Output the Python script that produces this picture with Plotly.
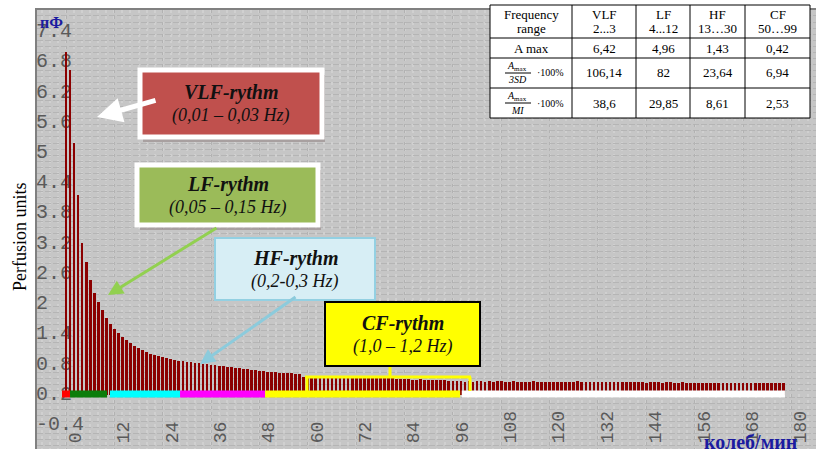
import plotly.graph_objects as go

# ---------------- data ----------------
amp = [6.81, 6.45, 5.00, 3.97, 3.02, 2.64, 2.28, 2.02, 1.85, 1.69,
       1.53, 1.41, 1.31, 1.23, 1.15, 1.09, 1.03, 0.97, 0.93, 0.89,
       0.85, 0.81, 0.79, 0.77, 0.75, 0.73, 0.71, 0.69, 0.67, 0.67,
       0.65, 0.65, 0.64, 0.63, 0.62, 0.61, 0.60, 0.59, 0.58, 0.57,
       0.56, 0.55, 0.54, 0.53, 0.52, 0.51, 0.50, 0.49, 0.48, 0.47,
       0.46, 0.45, 0.45, 0.44, 0.44, 0.43, 0.43, 0.42, 0.42,
       0.36, 0.35, 0.35, 0.36, 0.35, 0.34, 0.35, 0.35, 0.36, 0.35,
       0.34, 0.35, 0.36, 0.36, 0.35, 0.35, 0.34, 0.35, 0.35, 0.34,
       0.34, 0.33, 0.33, 0.32, 0.32,
       0.31, 0.31, 0.30, 0.30, 0.31, 0.30, 0.30, 0.29, 0.30, 0.30,
       0.29, 0.28, 0.28,
       0.27, 0.27, 0.26, 0.27, 0.26, 0.27, 0.27, 0.26, 0.27, 0.26,
       0.27, 0.27, 0.26, 0.26, 0.27, 0.26, 0.26,
       0.26, 0.26, 0.27, 0.26, 0.26, 0.26, 0.25, 0.26, 0.26, 0.26,
       0.25, 0.26, 0.26, 0.27, 0.26, 0.26, 0.25, 0.26, 0.26, 0.25,
       0.25, 0.26, 0.26, 0.25, 0.25, 0.25, 0.26, 0.25, 0.25, 0.25,
       0.24, 0.25, 0.25, 0.25, 0.24, 0.25, 0.25,
       0.24, 0.24, 0.25, 0.24, 0.24, 0.24, 0.24, 0.23, 0.24, 0.24,
       0.24, 0.23, 0.24, 0.24, 0.23, 0.24, 0.24, 0.23, 0.23, 0.24,
       0.23, 0.23, 0.24, 0.23, 0.23, 0.23, 0.23, 0.23]
freq = list(range(len(amp)))

x_ticks = list(range(0, 181, 12))
x_tick_text = [str(v) for v in x_ticks]
y_ticks = [7.4, 6.8, 6.2, 5.6, 5.0, 4.4, 3.8, 3.2, 2.6, 2.0, 1.4, 0.8, 0.2, -0.4]
y_tick_text = ["7.4", "6.8", "6.2", "5.6", "5", "4.4", "3.8", "3.2", "2.6", "2",
               "1.4", "0.8", "0.2", "-0.4"]

band_start = [-1.0, 1.0, 10.9, 28.3, 49.4, 98.2]
band_end = [1.0, 10.2, 28.3, 49.4, 97.8, 178.4]
band_color = ["#FF0000", "#0B7D0B", "#00FFFF", "#FF00FF", "#FFFF00", "#FFFFFF"]

tbl_header_top = ["Frequency", "VLF", "LF", "HF", "CF"]
tbl_header_bot = ["range", "2...3", "4...12", "13\u202630", "50\u202699"]
tbl_amax = ["6,42", "4,96", "1,43", "0,42"]
tbl_3sd = ["106,14", "82", "23,64", "6,94"]
tbl_mi = ["38,6", "29,85", "8,61", "2,53"]

# ---------------- geometry helpers ----------------
W, H = 816, 449
ML, MT = 37, 10
PW, PH = W - ML, H - MT


def px(x):
    return (x - ML) / PW


def py(y):
    return (H - y) / PH


SERIF = "Liberation Serif"
MONO = "Liberation Mono"


def label(x, y, text, font, **kw):
    d = dict(xref="paper", yref="paper", x=px(x), y=py(y), text=text,
             showarrow=False, font=font, xanchor="center", yanchor="middle")
    d.update(kw)
    return d


fig = go.Figure()

fig.add_trace(go.Bar(x=freq, y=amp, width=0.68,
                     marker=dict(color="#8B0000", line=dict(width=0)),
                     hoverinfo="skip"))

for s, e, c in zip(band_start, band_end, band_color):
    fig.add_trace(go.Scatter(x=[s, e], y=[0.02, 0.02], mode="lines",
                             line=dict(color=c, width=7), hoverinfo="skip"))

shapes = []
annots = []

# yellow bracket
for (x0, y0, x1, y1) in [(305, 377, 471, 377), (307, 377, 307, 391),
                         (470, 377, 470, 391), (390, 366, 390, 377)]:
    shapes.append(dict(type="line", xref="paper", yref="paper",
                       x0=px(x0), y0=py(y0), x1=px(x1), y1=py(y1),
                       line=dict(color="#FFFF00", width=3), layer="above"))

# rhythm boxes
boxes = [
    (140, 70, 322, 137, "#C0504D", "#FFFFFF", 5, "VLF-rythm", "(0,01 \u2013 0,03 Hz)"),
    (137, 165, 318, 225, "#9BBB59", "#FFFFFF", 5, "LF-rythm", "(0,05 \u2013 0,15 Hz)"),
    (215, 238, 375, 300, "#D7EEF5", "#93D0E2", 2, "HF-rythm", "(0,2-0,3 Hz)"),
    (325, 302, 480, 366, "#FFFF00", "#000000", 2, "CF-rythm", "(1,0 \u2013 1,2 Hz)"),
]
for x0, y0, x1, y1, fill, border, bw, title, sub in boxes:
    if bw == 5:
        shapes.append(dict(type="rect", xref="paper", yref="paper",
                           x0=px(x0 + 3), x1=px(x1 + 3), y0=py(y1 + 5), y1=py(y0 + 5),
                           fillcolor="#8A7A7A", opacity=0.5, line=dict(width=0),
                           layer="above"))
    shapes.append(dict(type="rect", xref="paper", yref="paper",
                       x0=px(x0), x1=px(x1), y0=py(y1), y1=py(y0),
                       fillcolor=fill, line=dict(color=border, width=bw),
                       layer="above"))
    cx = (x0 + x1) / 2
    cy = (y0 + y1) / 2
    annots.append(label(cx, cy - 11, "<b><i>" + title + "</i></b>",
                        dict(family=SERIF, size=20, color="#111111")))
    annots.append(label(cx, cy + 12, "<i>" + sub + "</i>",
                        dict(family=SERIF, size=18, color="#111111")))

# arrows (tail -> tip)
arrows = [((157, 100), (97, 117), "#FFFFFF", 5),
          ((218, 227), (108, 295), "#92D050", 3),
          ((297, 296), (200, 364), "#8CCBDC", 3)]
for (tx, ty), (hx, hy), col, w in arrows:
    annots.append(dict(xref="paper", yref="paper", x=px(hx), y=py(hy),
                       ax=tx - hx, ay=ty - hy, text="", showarrow=True,
                       arrowhead=2, arrowsize=1.0, arrowwidth=w, arrowcolor=col))

# table
T_L, T_R, T_T, T_B = 490, 810, 5, 118
col_x = [490, 572, 636, 690, 745, 810]
row_y = [5, 38, 58, 88, 118]
shapes.append(dict(type="rect", xref="paper", yref="paper",
                   x0=px(T_L), x1=px(T_R), y0=py(T_B), y1=py(T_T),
                   fillcolor="#FFFFFF", line=dict(color="#000000", width=1),
                   layer="above"))
for cxl in col_x[1:-1]:
    shapes.append(dict(type="line", xref="paper", yref="paper",
                       x0=px(cxl), x1=px(cxl), y0=py(T_B), y1=py(T_T),
                       line=dict(color="#000000", width=1), layer="above"))
for ryl in row_y[1:-1]:
    shapes.append(dict(type="line", xref="paper", yref="paper",
                       x0=px(T_L), x1=px(T_R), y0=py(ryl), y1=py(ryl),
                       line=dict(color="#000000", width=1), layer="above"))

centers = [(col_x[i] + col_x[i + 1]) / 2 for i in range(5)]
tf = dict(family=SERIF, size=13, color="#000000")
for i in range(5):
    annots.append(label(centers[i], 15, tbl_header_top[i], tf))
    annots.append(label(centers[i], 29, tbl_header_bot[i], tf))
annots.append(label(centers[0], 48, "A max", tf))
for i in range(4):
    annots.append(label(centers[i + 1], 48, tbl_amax[i], tf))
    annots.append(label(centers[i + 1], 73, tbl_3sd[i], tf))
    annots.append(label(centers[i + 1], 103, tbl_mi[i], tf))

sf = dict(family=SERIF, size=10, color="#000000")
for mid, den in [(73, "3SD"), (103, "MI")]:
    annots.append(label(517, mid - 7, "<i>A</i><sub>max</sub>", sf))
    shapes.append(dict(type="line", xref="paper", yref="paper",
                       x0=px(505), x1=px(531), y0=py(mid), y1=py(mid),
                       line=dict(color="#000000", width=1), layer="above"))
    annots.append(label(517, mid + 7, "<i>" + den + "</i>", sf))
    annots.append(label(550, mid, "\u00b7100%", sf))

# axis unit labels & y title
annots.append(label(51, 23, "<b>\u043f\u0424</b>",
                    dict(family=SERIF, size=16, color="#1B1BA0")))
annots.append(label(750, 442, "<b>\u043a\u043e\u043b\u0435\u0431/\u043c\u0438\u043d</b>",
                    dict(family=SERIF, size=20, color="#1B1BA0")))
annots.append(label(20, 237, "Perfusion units",
                    dict(family=SERIF, size=18, color="#000000"), textangle=-90))

fig.update_layout(
    width=W, height=H,
    margin=dict(l=ML, r=0, t=MT, b=0, pad=0, autoexpand=False),
    paper_bgcolor="#FFFFFF", plot_bgcolor="#C6C6C6",
    showlegend=False, bargap=0,
    shapes=shapes, annotations=annots,
    xaxis=dict(range=[(ML - 66) / 4.03, (W - 66) / 4.03],
               tickmode="array", tickvals=x_ticks, ticktext=x_tick_text,
               tickangle=-90, ticklabelposition="inside", ticklabelshift=9,
               ticklabelstandoff=0, automargin=False, ticklabeloverflow="allow",
               tickfont=dict(family=MONO, size=18, color="#5A5A5A"),
               ticks="", showline=True, mirror=True, linecolor="#808080", linewidth=2,
               showgrid=True, gridcolor="#B2B2B2", griddash="dot", gridwidth=1,
               minor=dict(dtick=2, tick0=0, showgrid=True, gridcolor="#D0D0D0",
                          gridwidth=2),
               zeroline=False, layer="below traces", fixedrange=True),
    yaxis=dict(range=[(395 - H) / 50.4, (395 - MT) / 50.4],
               tickmode="array", tickvals=y_ticks, ticktext=y_tick_text,
               ticklabelposition="inside", ticklabelshift=8, automargin=False,
               ticklabeloverflow="allow",
               tickfont=dict(family=MONO, size=20, color="#5A5A5A"),
               ticks="", showline=True, linecolor="#808080", linewidth=2,
               showgrid=True, gridcolor="#B5B5B5", griddash="6px,2px", gridwidth=1,
               minor=dict(dtick=0.12, tick0=0.2, showgrid=True, gridcolor="#B5B5B5",
                          griddash="6px,2px", gridwidth=1),
               zeroline=False, layer="below traces", fixedrange=True),
)

fig.write_html("out.html", config={"displayModeBar": False, "staticPlot": True},
               post_script="document.body.style.margin='0px';"
                           "document.body.style.padding='0px';")
